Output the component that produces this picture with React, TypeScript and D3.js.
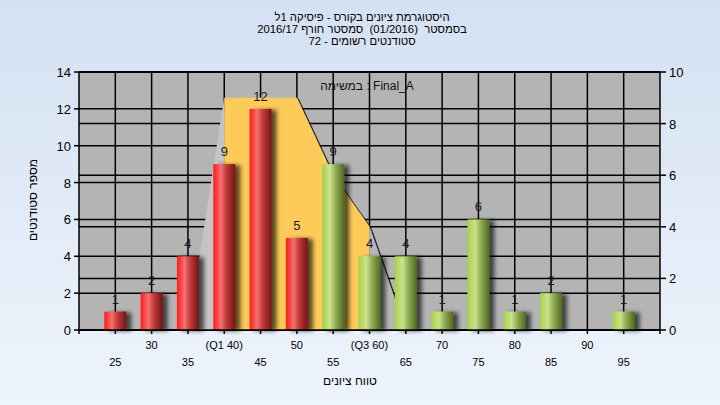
import React from "react";
import * as d3 from "d3";

// histogram data
const grades = [25, 30, 35, 40, 45, 50, 55, 60, 65, 70, 75, 80, 85, 90, 95];
const counts = [1, 2, 4, 9, 12, 5, 9, 4, 4, 1, 6, 1, 2, 0, 1];
const gradeLabels = ["25", "30", "35", "(Q1 40)", "45", "50", "55", "(Q3 60)", "65", "70", "75", "80", "85", "90", "95"];

// distribution outline (right axis)
const curveGrades = [35, 40, 45, 50, 55, 60, 65];
const curveValues = [0, 9, 9, 9, 6, 4, 0];
const q1 = 40;
const q3 = 60;
const passGrade = 55;

const leftTicks = [0, 2, 4, 6, 8, 10, 12, 14];
const rightTicks = [0, 2, 4, 6, 8, 10];

const titleLines = [
  "היסטוגרמת ציונים בקורס - פיסיקה 1ל",
  "בסמסטר  (01/2016)  סמסטר חורף 2016/17",
  "סטודנטים רשומים - 72",
];
const taskLabel = "במשימה : Final_A";
const xTitle = "טווח ציונים";
const yTitle = "מספר סטודנטים";

const W = 720,
  H = 405;
const plot = { left: 79, right: 660, top: 72, bottom: 330 };
const font = "'Liberation Sans', Arial, sans-serif";

export default function App() {
  const x = d3.scaleLinear().domain([20, 100]).range([plot.left, plot.right]);
  const yL = d3.scaleLinear().domain([0, 14]).range([plot.bottom, plot.top]);
  const yR = d3.scaleLinear().domain([0, 10]).range([plot.bottom, plot.top]);
  const barW = 22;

  const pts = curveGrades.map((g, i) => ({ g, v: curveValues[i] }));
  const area = d3
    .area<{ g: number; v: number }>()
    .x((d) => x(d.g))
    .y0(yR(0))
    .y1((d) => yR(d.v));
  const leftPart = pts.filter((d) => d.g <= q1);
  const midPart = pts.filter((d) => d.g >= q1 && d.g <= q3);
  const rightPart = pts.filter((d) => d.g >= q3);

  return (
    <svg
      width={W}
      height={H}
      style={{ position: "absolute", left: 0, top: 0, fontFamily: font }}
    >
      <defs>
        <linearGradient id="bg" x1="0" y1="0" x2="0" y2="1">
          <stop offset="0" stopColor="#d4e1f2" />
          <stop offset="1" stopColor="#eef4fc" />
        </linearGradient>
        <linearGradient id="red" x1="0" y1="0" x2="1" y2="0">
          <stop offset="0" stopColor="#ff1c1c" />
          <stop offset="0.12" stopColor="#ff3434" />
          <stop offset="0.35" stopColor="#f27272" />
          <stop offset="0.6" stopColor="#c23a3a" />
          <stop offset="1" stopColor="#741414" />
        </linearGradient>
        <linearGradient id="green" x1="0" y1="0" x2="1" y2="0">
          <stop offset="0" stopColor="#a6d04a" />
          <stop offset="0.12" stopColor="#b2d85a" />
          <stop offset="0.35" stopColor="#cbe28e" />
          <stop offset="0.6" stopColor="#93ae58" />
          <stop offset="1" stopColor="#4e6a1e" />
        </linearGradient>
        <filter id="shadow" x="-30%" y="-10%" width="160%" height="120%">
          <feGaussianBlur in="SourceAlpha" stdDeviation="2" />
          <feOffset dx="5" dy="1" result="b" />
          <feComponentTransfer>
            <feFuncA type="linear" slope="0.65" />
          </feComponentTransfer>
          <feMerge>
            <feMergeNode />
            <feMergeNode in="SourceGraphic" />
          </feMerge>
        </filter>
        <filter id="areaShadow" x="-10%" y="-10%" width="120%" height="120%">
          <feGaussianBlur in="SourceAlpha" stdDeviation="0.6" />
          <feOffset dx="2" dy="1" result="b" />
          <feComponentTransfer>
            <feFuncA type="linear" slope="0.8" />
          </feComponentTransfer>
          <feMerge>
            <feMergeNode />
            <feMergeNode in="SourceGraphic" />
          </feMerge>
        </filter>
      </defs>

      <rect width={W} height={H} fill="url(#bg)" />

      {/* title */}
      <g direction="rtl" fontSize={11.3} fill="#000" textAnchor="middle">
        {titleLines.map((t, i) => (
          <text key={i} x={362} y={21 + i * 12} style={{ whiteSpace: "pre" }}>
            {t}
          </text>
        ))}
      </g>

      {/* plot background */}
      <rect
        x={plot.left}
        y={plot.top}
        width={plot.right - plot.left}
        height={plot.bottom - plot.top}
        fill="#b4b4b4"
      />

      {/* grid */}
      <g stroke="#000" strokeWidth={1.5}>
        {leftTicks.map((t) => (
          <line key={"l" + t} x1={plot.left} x2={plot.right} y1={yL(t)} y2={yL(t)} />
        ))}
        {rightTicks.map((t) => (
          <line key={"r" + t} x1={plot.left} x2={plot.right} y1={yR(t)} y2={yR(t)} />
        ))}
        {grades.map((g) => (
          <line key={"v" + g} x1={x(g)} x2={x(g)} y1={plot.top} y2={plot.bottom} />
        ))}
      </g>

      {/* distribution area */}
      <g filter="url(#areaShadow)">
        <path d={area(leftPart) || ""} fill="#c4c4c4" />
        <path d={area(midPart) || ""} fill="#fecb5a" />
        <path d={area(rightPart) || ""} fill="#b6b6b6" />
      </g>

      {/* bars */}
      <g filter="url(#shadow)">
        {grades.map((g, i) =>
          counts[i] > 0 ? (
            <rect
              key={g}
              x={x(g) - barW / 2}
              y={yL(counts[i])}
              width={barW}
              height={yL(0) - yL(counts[i])}
              fill={g < passGrade ? "url(#red)" : "url(#green)"}
            />
          ) : null
        )}
      </g>

      {/* value labels */}
      <g fontSize={13} textAnchor="middle" fill="#1a1a2a">
        {grades.map((g, i) =>
          counts[i] > 0 ? (
            <text key={g} x={x(g)} y={yL(counts[i]) - 8}>
              {counts[i]}
            </text>
          ) : null
        )}
      </g>

      <text x={367} y={90} fontSize={12} textAnchor="middle" direction="ltr" fill="#111">
        {taskLabel}
      </text>

      {/* axes */}
      <g stroke="#000" strokeWidth={1.5} fill="none">
        <line x1={plot.left} x2={plot.left} y1={plot.top} y2={plot.bottom + 4} />
        <line x1={plot.right} x2={plot.right} y1={plot.top} y2={plot.bottom + 4} />
        <line x1={plot.left} x2={plot.right} y1={plot.top} y2={plot.top} />
        <line x1={plot.left} x2={plot.right} y1={plot.bottom} y2={plot.bottom} />
        {leftTicks.map((t) => (
          <line key={t} x1={plot.left - 5} x2={plot.left} y1={yL(t)} y2={yL(t)} />
        ))}
        {rightTicks.map((t) => (
          <line key={t} x1={plot.right} x2={plot.right + 6} y1={yR(t)} y2={yR(t)} />
        ))}
        {grades.map((g) => (
          <line key={g} x1={x(g)} x2={x(g)} y1={plot.bottom} y2={plot.bottom + 4} />
        ))}
      </g>

      <g fontSize={13} fill="#000">
        {leftTicks.map((t) => (
          <text key={t} x={plot.left - 8} y={yL(t) + 5} textAnchor="end">
            {t}
          </text>
        ))}
        {rightTicks.map((t) => (
          <text key={t} x={plot.right + 9} y={yR(t) + 5} textAnchor="start">
            {t}
          </text>
        ))}
      </g>

      <g fontSize={11} fill="#000" textAnchor="middle">
        {grades.map((g, i) => (
          <text key={g} x={x(g)} y={i % 2 === 0 ? 366 : 349}>
            {gradeLabels[i]}
          </text>
        ))}
      </g>

      <text x={350} y={385} fontSize={12} textAnchor="middle" direction="rtl">
        {xTitle}
      </text>
      <text
        transform="translate(37,200) rotate(-90)"
        fontSize={12}
        textAnchor="middle"
        direction="rtl"
      >
        {yTitle}
      </text>
    </svg>
  );
}
